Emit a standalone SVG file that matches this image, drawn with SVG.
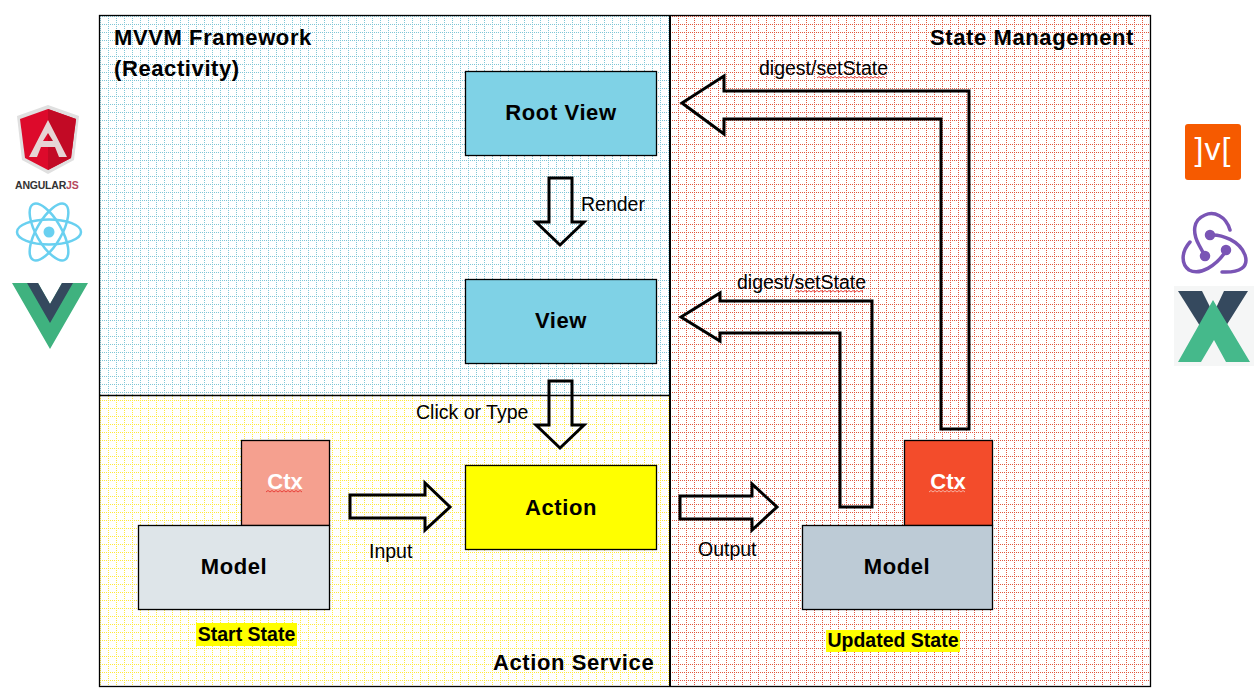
<svg xmlns="http://www.w3.org/2000/svg" width="1260" height="698" viewBox="0 0 1260 698">
<style>
text{font-family:"Liberation Sans",Arial,sans-serif;fill:#000}
.b{font-weight:bold;font-size:22px;letter-spacing:.6px;text-anchor:middle}
.t{font-weight:bold;font-size:22px;letter-spacing:.6px}
.l{font-size:19.5px}
.c{font-weight:bold;font-size:22px;text-anchor:middle;fill:#fff}
.box{stroke:#000;stroke-width:1.3}
.arrow{fill:none;stroke:#000;stroke-width:3;stroke-linejoin:miter}
.sq{fill:none;stroke:#e8413a;stroke-width:1}
.hl{fill:#ff0}
.s{font-weight:bold;font-size:19.5px;text-anchor:middle}
</style>
<defs>
<pattern id="gb" width="8" height="8" patternUnits="userSpaceOnUse" x="100" y="16"><path d="M0 .5h8M.5 0v8" stroke="#7fc6d6" stroke-width="1" stroke-dasharray="1 1" fill="none"/></pattern>
<pattern id="gy" width="8" height="8" patternUnits="userSpaceOnUse" x="100" y="16"><path d="M0 .5h8M.5 0v8" stroke="#ffe93c" stroke-width="1" stroke-dasharray="1 1" fill="none"/></pattern>
<pattern id="gr" width="8" height="8" patternUnits="userSpaceOnUse" x="670" y="16"><path d="M0 .5h8M.5 0v8" stroke="#e2573f" stroke-width="1" stroke-dasharray="1 1" fill="none"/></pattern>
</defs>
<rect width="1260" height="698" fill="#fff"/>
<g id="panels">
<rect x="100" y="16" width="570" height="379" fill="url(#gb)"/>
<rect x="100" y="395" width="570" height="291" fill="url(#gy)"/>
<rect x="670" y="16" width="480" height="670" fill="url(#gr)"/>
<rect x="99.500" y="15.500" width="1051" height="671" fill="none" stroke="#000" stroke-width="1.300"/>
<path d="M670 15V686" stroke="#000" stroke-width="2" fill="none"/>
<path d="M100 395.500H670" stroke="#000" stroke-width="1.300" fill="none"/>
</g>
<g id="panel-labels">
<text class="t" x="114" y="45">MVVM Framework</text>
<text class="t" x="114" y="76">(Reactivity)</text>
<text class="t" x="930" y="45">State Management</text>
<text class="t" x="493" y="670">Action Service</text>
</g>
<g id="connectors">
<path class="arrow" d="M682 103L724 76V91H969V429H941V119H724V134Z"/>
<path class="arrow" d="M681 317L720 293V301H872V507H840V333H720V341Z"/>
<path class="arrow" d="M549 178H572V222H584L560 245L536 222H549Z"/>
<path class="arrow" d="M549 381H572V425H584L560 448L536 425H549Z"/>
<path class="arrow" d="M350 495H425V483L450 507L425 530V518H350Z"/>
<path class="arrow" d="M680 496H752V484L777 507L752 530V519H680Z"/>
</g>
<g id="connector-labels">
<text class="l" x="759" y="75">digest/setState</text>
<path class="sq" d="M817 78l2-1.500 2 1.500 2-1.500 2 1.500 2-1.500 2 1.500 2-1.500 2 1.500 2-1.500 2 1.500 2-1.500 2 1.500 2-1.500 2 1.500 2-1.500 2 1.500 2-1.500 2 1.500 2-1.500 2 1.500 2-1.500 2 1.500 2-1.500 2 1.500 2-1.500 2 1.500 2-1.500 2 1.500 2-1.500 2 1.500 2-1.500 2 1.500 2-1.500 2 1.500"/>
<text class="l" x="737" y="289">digest/setState</text>
<path class="sq" d="M795 292l2-1.500 2 1.500 2-1.500 2 1.500 2-1.500 2 1.500 2-1.500 2 1.500 2-1.500 2 1.500 2-1.500 2 1.500 2-1.500 2 1.500 2-1.500 2 1.500 2-1.500 2 1.500 2-1.500 2 1.500 2-1.500 2 1.500 2-1.500 2 1.500 2-1.500 2 1.500 2-1.500 2 1.500 2-1.500 2 1.500 2-1.500 2 1.500 2-1.500 2 1.500"/>
<text class="l" x="581" y="211">Render</text>
<text class="l" x="416" y="419">Click or Type</text>
<text class="l" x="369" y="558">Input</text>
<text class="l" x="698" y="556">Output</text>
</g>
<g id="root-view"><rect class="box" x="465.500" y="71.500" width="191" height="84" fill="#7fd2e6"/><text class="b" x="561" y="120">Root View</text></g>
<g id="view"><rect class="box" x="465.500" y="279.500" width="191" height="84" fill="#7fd2e6"/><text class="b" x="561" y="328">View</text></g>
<g id="action"><rect class="box" x="465.500" y="465.500" width="191" height="84" fill="#ff0"/><text class="b" x="561" y="515">Action</text></g>
<g id="ctx-start"><rect class="box" x="241.500" y="440.500" width="88" height="85" fill="#f5a08f"/><text class="c" x="285" y="489">Ctx</text>
<path class="sq" d="M266 492l2-1.500 2 1.500 2-1.500 2 1.500 2-1.500 2 1.500 2-1.500 2 1.500 2-1.500 2 1.500 2-1.500 2 1.500 2-1.500 2 1.500 2-1.500 2 1.500 2-1.500 2 1.500"/></g>
<g id="model-start"><rect class="box" x="138.500" y="525.500" width="191" height="84" fill="#dee5e9"/><text class="b" x="234" y="574">Model</text></g>
<g id="ctx-updated"><rect class="box" x="904.500" y="440.500" width="88" height="85" fill="#f34c2b"/><text class="c" x="948" y="489">Ctx</text>
<path class="sq" d="M929 492l2-1.500 2 1.500 2-1.500 2 1.500 2-1.500 2 1.500 2-1.500 2 1.500 2-1.500 2 1.500 2-1.500 2 1.500 2-1.500 2 1.500 2-1.500 2 1.500 2-1.500 2 1.500" style="stroke:#f7b0a0"/></g>
<g id="model-updated"><rect class="box" x="802.500" y="525.500" width="190" height="84" fill="#bdcbd6"/><text class="b" x="897" y="574">Model</text></g>
<g id="start-state"><rect class="hl" x="196" y="623" width="101" height="23"/><text class="s" x="246.500" y="641">Start State</text></g>
<g id="updated-state"><rect class="hl" x="826" y="630" width="134" height="22"/><text class="s" x="893" y="647">Updated State</text></g>
<g id="logo-angular">
<path d="M48 105L79 116L74 160L48 174L22 160L17 116Z" fill="#e0e0e0"/>
<path d="M48 109L76 119L71 158L48 170L25 158L20 119Z" fill="#dd0a2b"/>
<path d="M48 109L76 119L71 158L48 170Z" fill="#c20a25"/>
<path d="M48 120L29 157H37L41 147H55L59 157H67ZM48 133L53 141H43Z" fill="#e6d5d5" fill-rule="evenodd"/>
<text x="15" y="189" font-size="10.500" font-weight="bold" fill="#333" style="fill:#333;letter-spacing:-.2px">ANGULAR<tspan style="fill:#b5475c">JS</tspan></text>
</g>
<g id="logo-react" fill="none" stroke="#69d0f0" stroke-width="2.500">
<ellipse cx="49" cy="232" rx="32" ry="12.500"/>
<ellipse cx="49" cy="232" rx="32" ry="12.500" transform="rotate(60 49 232)"/>
<ellipse cx="49" cy="232" rx="32" ry="12.500" transform="rotate(120 49 232)"/>
<circle cx="49" cy="232" r="5.500" fill="#69d0f0" stroke="none"/>
</g>
<g id="logo-vue">
<path d="M12 283H38L50 304L62 283H88L50 349Z" fill="#3fb27f"/>
<path d="M27 283H38L50 304L62 283H73L50 323Z" fill="#35495e"/>
</g>
<g id="logo-mobx">
<rect x="1185" y="124" width="56" height="56" rx="3" fill="#f65a00"/>
<text x="1213" y="160" text-anchor="middle" font-size="32" style="fill:#fff;font-family:'Liberation Sans',sans-serif;letter-spacing:1px">]v[</text>
</g>
<g id="logo-redux" fill="none" stroke="#7a55b5" stroke-width="3.500" stroke-linecap="round">
<path d="M1230 230C1226 216 1214 211 1205 215C1193 220 1192 232 1199 245L1205 256"/>
<path d="M1210 235C1222 234 1240 241 1245 255C1249 267 1240 273 1222 272"/>
<path d="M1190 242C1181 252 1181 264 1189 270C1200 276 1216 266 1226 251"/>
<circle cx="1210" cy="235" r="3.500" fill="#7a55b5"/><circle cx="1205" cy="256" r="3.500" fill="#7a55b5"/><circle cx="1226" cy="250" r="3.500" fill="#7a55b5"/>
</g>
<g id="logo-vuex">
<rect x="1174" y="286" width="80" height="80" fill="#f5f6f6"/>
<path d="M1178 291H1202L1220 327L1206 327L1200 326Z" fill="#35495e"/>
<path d="M1248 291H1224L1207 327L1220 326L1226 326Z" fill="#35495e"/>
<path d="M1178 362L1213 300L1250 362H1226L1214 340L1201 362Z" fill="#45b98b"/>
</g>
</svg>
